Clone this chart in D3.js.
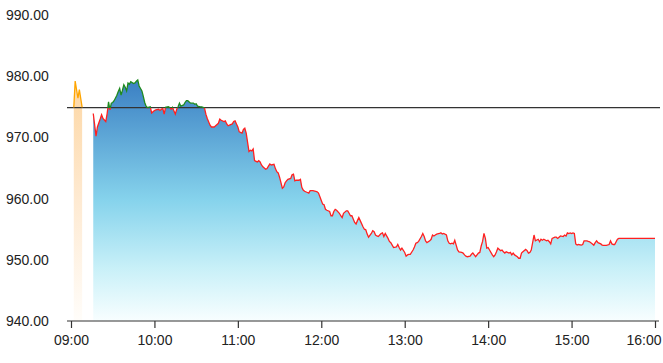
<!DOCTYPE html>
<html><head><meta charset="utf-8">
<script src="https://cdn.jsdelivr.net/npm/d3@7"></script>
<style>body{margin:0;background:#fff}svg{display:block;font-family:"Liberation Sans",Arial,sans-serif}</style>
</head><body><svg id="c" width="663" height="363"></svg>
<script>
const preTimes = ["09:02","09:03","09:05","09:06","09:08"];
const preValues = [974.9,979.2,976.4,977.8,974.9];
const times = ["09:16","09:18","09:19","09:21","09:22","09:23","09:25","09:26","09:27","09:28","09:29","09:30","09:31","09:33","09:34","09:35","09:36","09:37","09:38","09:39","09:40","09:41","09:42","09:43","09:45","09:46","09:47","09:48","09:49","09:51","09:52","09:53","09:54","09:55","09:57","09:58","09:59",
"10:00","10:01","10:03","10:04","10:05","10:06","10:07","10:08","10:10","10:11","10:12","10:13","10:15","10:16","10:17","10:18","10:19","10:21","10:22","10:23","10:24","10:25","10:26","10:28","10:29","10:30","10:31","10:33","10:34","10:35","10:36","10:37","10:38","10:40","10:41","10:43","10:44","10:46","10:47","10:48","10:50","10:51","10:52","10:53","10:54","10:56","10:57","10:58","10:59",
"11:00","11:01","11:03","11:04","11:05","11:06","11:08","11:09","11:10","11:11","11:12","11:14","11:15","11:16","11:17","11:18","11:20","11:21","11:22","11:23","11:24","11:26","11:27","11:28","11:29","11:30","11:32","11:33","11:34","11:35","11:36","11:38","11:39","11:40","11:41","11:42","11:44","11:45","11:46","11:47","11:48","11:50","11:51","11:52","11:53","11:54","11:56","11:57","11:58","11:59",
"12:00","12:01","12:02","12:03","12:04","12:06","12:07","12:08","12:09","12:10","12:11","12:13","12:14","12:15","12:16","12:18","12:19","12:20","12:21","12:22","12:24","12:25","12:26","12:27","12:28","12:30","12:31","12:32","12:33","12:34","12:36","12:37","12:38","12:39","12:40","12:41","12:43","12:44","12:45","12:46","12:48","12:49","12:50","12:51","12:52","12:54","12:55","12:56","12:57","12:58",
"13:00","13:01","13:02","13:03","13:04","13:06","13:07","13:08","13:09","13:10","13:12","13:13","13:14","13:15","13:16","13:18","13:19","13:20","13:21","13:22","13:23","13:25","13:26","13:27","13:28","13:30","13:31","13:32","13:33","13:34","13:35","13:36","13:37","13:38","13:39","13:41","13:42","13:43","13:44","13:45","13:47","13:48","13:49","13:50","13:51","13:53","13:54","13:55","13:56","13:57","13:58","13:59",
"14:00","14:01","14:03","14:04","14:05","14:06","14:07","14:09","14:10","14:11","14:12","14:13","14:15","14:16","14:17","14:18","14:19","14:21","14:22","14:23","14:24","14:25","14:27","14:28","14:29","14:30","14:31","14:33","14:34","14:36","14:37","14:38","14:39","14:40","14:42","14:43","14:44","14:45","14:46","14:48","14:49","14:50","14:51","14:52","14:54","14:55","14:56","14:57","14:58","14:59",
"15:00","15:01","15:02","15:03","15:04","15:05","15:07","15:08","15:09","15:10","15:11","15:12","15:13","15:15","15:16","15:17","15:18","15:19","15:21","15:22","15:23","15:24","15:25","15:27","15:28","15:29","15:30","15:31","15:33","15:34","16:00"];
const values = [973.9,970.2,971.7,973.0,973.7,973.1,972.6,973.9,975.8,974.5,975.6,975.7,976.0,976.9,977.5,978.0,976.9,977.7,978.6,978.2,977.6,978.9,978.7,979.1,978.8,978.9,979.2,979.4,978.4,977.6,976.7,975.7,975.1,974.85,975.0,974.0,974.2,
974.4,974.5,974.6,974.4,974.6,974.75,973.8,974.9,975.0,974.9,974.6,974.9,973.8,974.6,975.0,975.6,975.1,975.3,975.7,976.0,976.0,975.8,975.6,975.6,975.4,975.5,975.1,975.0,975.0,974.9,974.8,973.8,973.1,972.0,971.7,971.7,971.9,972.3,973.0,972.8,972.6,972.7,972.2,971.9,972.0,972.2,972.6,972.7,972.2,
971.7,970.9,970.7,971.3,971.5,970.7,967.7,967.9,967.8,968.1,966.2,966.0,966.2,966.0,965.5,965.2,964.8,964.9,965.3,965.65,965.5,965.6,964.9,964.4,964.2,963.5,961.7,961.9,962.6,962.9,963.15,963.3,963.9,964.0,962.9,963.0,963.0,963.15,961.85,961.4,961.2,961.0,960.9,961.3,961.3,961.3,961.2,961.1,960.9,960.3,
959.7,959.1,959.0,958.25,958.1,957.9,957.2,957.2,957.9,958.25,958.1,957.6,957.2,956.9,957.6,958.0,958.0,957.6,957.2,957.2,956.1,955.85,956.4,956.9,956.4,955.4,955.0,954.9,954.2,953.7,954.3,954.75,954.6,954.05,953.9,953.8,954.3,954.4,953.8,954.3,953.5,953.0,952.8,952.4,952.0,952.1,952.5,952.0,951.6,951.9,
951.2,950.6,950.8,950.9,950.9,951.6,952.1,952.7,952.8,953.0,953.8,954.3,953.8,953.1,952.8,953.1,953.35,954.05,953.9,954.05,954.2,954.3,954.4,954.2,954.3,954.05,953.1,952.7,952.6,952.7,952.6,953.2,952.4,951.6,951.3,951.2,951.1,950.8,950.6,950.5,950.6,950.9,951.1,950.8,950.5,951.1,951.2,952.25,953.0,954.3,953.5,951.9,
952.0,951.6,950.8,950.5,950.8,951.3,951.9,951.5,951.6,951.3,951.1,951.3,951.1,951.2,950.8,951.1,950.8,950.5,950.25,950.25,951.1,951.3,951.7,951.5,951.1,951.2,951.6,954.05,953.1,953.35,952.95,953.35,953.2,953.35,953.1,953.2,952.95,952.6,953.5,953.7,953.7,953.5,953.7,953.9,953.8,954.05,953.9,954.4,954.3,954.4,
954.3,954.4,954.3,952.6,952.4,952.5,952.4,952.5,953.1,953.1,953.1,953.0,952.95,952.6,952.4,952.8,953.1,952.8,952.6,952.4,952.35,952.35,952.35,952.5,953.1,952.6,952.5,952.5,953.35,953.5,953.5];
const refValue = 974.88;
const yTicks = [940,950,960,970,980,990];
const xTicks = ["09:00","10:00","11:00","12:00","13:00","14:00","15:00","16:00"];

const parse = d3.timeParse("%H:%M");
const svg = d3.select("#c");
const x = d3.scaleTime().domain([parse("09:00"), parse("16:00")]).range([71, 655]);
const y = d3.scaleLinear().domain([940, 990]).range([321, 15]);
const y0 = y(940);
const refY = y(refValue);

const main = times.map((t, i) => ({t: parse(t), v: values[i]}));
const pre = preTimes.map((t, i) => ({t: parse(t), v: preValues[i]}));

const defs = svg.append("defs");
const ag = defs.append("linearGradient").attr("id","areaGrad").attr("gradientUnits","userSpaceOnUse")
  .attr("x1",0).attr("x2",0).attr("y1",y(979.5)).attr("y2",y0);
[[0,"#3a7fc3"],[0.5,"#86d3ec"],[0.78,"#c8f0f8"],[1,"#f8feff"]].forEach(([o,c]) =>
  ag.append("stop").attr("offset",o).attr("stop-color",c));
const og = defs.append("linearGradient").attr("id","preGrad").attr("gradientUnits","userSpaceOnUse")
  .attr("x1",0).attr("x2",0).attr("y1",y(979.5)).attr("y2",y0);
[[0,"#fdd6a2"],[0.5,"#feead2"],[1,"#fffdfa"]].forEach(([o,c]) =>
  og.append("stop").attr("offset",o).attr("stop-color",c));
const lg = defs.append("linearGradient").attr("id","lineGrad").attr("gradientUnits","userSpaceOnUse")
  .attr("x1",0).attr("x2",0).attr("y1",0).attr("y2",363);
[[0,"#1e8a1e"],[refY/363,"#1e8a1e"],[refY/363,"#ff2020"],[1,"#ff2020"]].forEach(([o,c]) =>
  lg.append("stop").attr("offset",o).attr("stop-color",c));

const area = d3.area().x(d => x(d.t)).y0(y0).y1(d => y(d.v));
const line = d3.line().x(d => x(d.t)).y(d => y(d.v));

svg.append("path").datum(pre).attr("d", area).attr("fill","url(#preGrad)");
svg.append("path").datum(main).attr("d", area).attr("fill","url(#areaGrad)");

svg.append("line").attr("x1",67).attr("x2",660).attr("y1",refY).attr("y2",refY)
  .attr("stroke","#333").attr("stroke-width",1.3);

svg.append("path").datum(pre).attr("d", line).attr("fill","none").attr("stroke","#ffa500").attr("stroke-width",1.3);
svg.append("path").datum(main).attr("d", line).attr("fill","none").attr("stroke","url(#lineGrad)").attr("stroke-width",1.3);

// y labels
svg.append("g").selectAll("text").data(yTicks).join("text")
  .attr("x",6).attr("y",d => y(d)).attr("dy","0.35em")
  .attr("font-size",14).attr("fill","#222").text(d => d.toFixed(2));

// x axis
const xa = svg.append("g").attr("transform",`translate(0,${y0})`)
  .call(d3.axisBottom(x).tickValues(xTicks.map(parse)).tickFormat(d3.timeFormat("%H:%M")).tickSize(7).tickPadding(7));
xa.select(".domain").remove();
xa.selectAll(".tick line").attr("stroke","#333").attr("stroke-width",1.2);
xa.selectAll(".tick text").attr("font-size",14).attr("fill","#222").attr("font-family","'Liberation Sans',Arial,sans-serif");
xa.selectAll(".tick text").filter((d, i, n) => i === n.length - 1)
  .attr("text-anchor","end").attr("x", 661 - x(parse("16:00")));
svg.append("line").attr("x1",67).attr("x2",659).attr("y1",y0).attr("y2",y0).attr("stroke","#333").attr("stroke-width",1.2);
</script></body></html>
